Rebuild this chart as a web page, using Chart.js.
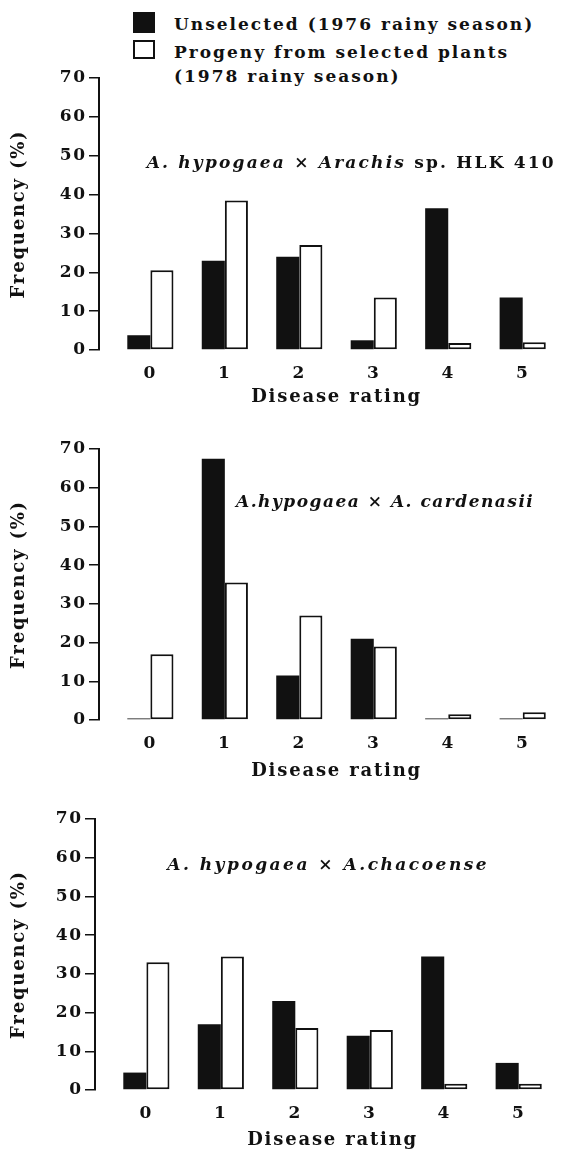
<!DOCTYPE html>
<html>
<head>
<meta charset="utf-8">
<script src="https://cdn.jsdelivr.net/npm/chart.js@4.4.1/dist/chart.umd.min.js"></script>
<style>
  html, body { margin: 0; padding: 0; background: #fff; }
  #page { position: relative; width: 566px; height: 1153px; overflow: hidden; }
  canvas { position: absolute; left: 0; }
  .key { position: absolute; background: #111; }
  .key.open { background: #fff; border: 2px solid #111; box-sizing: border-box; }
  .ktext { position: absolute; left: 174px; font: bold 17px "DejaVu Serif", serif;
           letter-spacing: 2px; color: #111; line-height: 24px; white-space: nowrap; }
</style>
</head>
<body>
<div id="page">
  <div class="key" style="left:133px;top:12px;width:22px;height:21px"></div>
  <div class="ktext" id="lab1" style="top:12px"></div>
  <div class="key open" style="left:133px;top:40px;width:22px;height:19px"></div>
  <div class="ktext" id="lab2" style="top:40px"></div>
  <canvas id="c1" width="566" height="410" style="top:0"></canvas>
  <canvas id="c2" width="566" height="375" style="top:410px"></canvas>
  <canvas id="c3" width="566" height="368" style="top:785px"></canvas>
</div>
<script>
// data
const ratings = [0, 1, 2, 3, 4, 5];
const yTicks = [0, 10, 20, 30, 40, 50, 60, 70];
const seriesNames = ["Unselected (1976 rainy season)", "Progeny from selected plants\n(1978 rainy season)"];
const xTitle = "Disease rating";
const yTitle = "Frequency (%)";

const hlkUnselected = [3.8, 23, 24, 2.5, 36.5, 13.5];
const hlkProgeny    = [20.5, 38.5, 27, 13.5, 1.8, 2];
const cardUnselected = [0.4, 67.5, 11.5, 21, 0.4, 0.4];
const cardProgeny    = [17, 35.5, 27, 19, 1.5, 2];
const chacUnselected = [4.5, 17, 23, 14, 34.5, 7];
const chacProgeny    = [33, 34.5, 16, 15.5, 1.6, 1.6];

// [text, italic]
const titleHLK  = [["A. hypogaea", true], [" × ", false], ["Arachis", true], [" sp. HLK 410", false]];
const titleCard = [["A.hypogaea", true], [" × ", false], ["A. cardenasii", true]];
const titleChac = [["A. hypogaea", true], [" × ", false], ["A.chacoense", true]];

document.getElementById("lab1").textContent = seriesNames[0];
document.getElementById("lab2").innerHTML = seriesNames[1].replace("\n", "<br>");

const INK = "#111";
const SERIF = '"DejaVu Serif", serif';
const TICK_FONT = { family: SERIF, size: 17, weight: "bold" };
const AXIS_FONT = { family: SERIF, size: 18, weight: "bold" };

// letter spacing like the typeset original
const spacing = {
  id: "spacing",
  beforeLayout(chart) { chart.ctx.letterSpacing = "1.8px"; },
  beforeDraw(chart) { chart.ctx.letterSpacing = "1.8px"; }
};

// cross title placed in data units, x title centred on the rating range
const panelText = {
  id: "panelText",
  afterDatasetsDraw(chart, args, opts) {
    const { ctx, chartArea, scales: { x, y } } = chart;
    ctx.save();
    ctx.fillStyle = INK;
    ctx.textBaseline = "middle";

    ctx.textAlign = "left";
    ctx.letterSpacing = opts.spacing + "px";
    let px = x.getPixelForValue(opts.x);
    const py = y.getPixelForValue(opts.y);
    opts.parts.forEach(([text, italic]) => {
      ctx.font = (italic ? "italic " : "") + "bold 17px " + SERIF;
      ctx.fillText(text, px, py);
      px += ctx.measureText(text).width;
    });

    ctx.textAlign = "center";
    ctx.letterSpacing = "1.8px";
    ctx.font = "bold 18px " + SERIF;
    const mid = (ratings[0] + ratings[ratings.length - 1]) / 2;
    ctx.fillText(xTitle, x.getPixelForValue(mid), chartArea.bottom + opts.gap);
    ctx.restore();
  }
};

function makePanel(id, unsel, prog, title, cfg) {
  const pts = arr => ratings.map((r, i) => ({ x: r, y: arr[i] }));
  return new Chart(document.getElementById(id), {
    type: "bar",
    data: {
      datasets: [
        { label: seriesNames[0], data: pts(unsel), backgroundColor: INK, borderWidth: 0,
          categoryPercentage: 0.62, barPercentage: 1 },
        { label: seriesNames[1], data: pts(prog), backgroundColor: "#fff", borderColor: INK,
          borderWidth: 2, borderSkipped: false, categoryPercentage: 0.62, barPercentage: 1 }
      ]
    },
    options: {
      responsive: false,
      animation: false,
      layout: { padding: { top: cfg.top, right: cfg.right, left: 0, bottom: 0 } },
      scales: {
        x: {
          type: "linear", min: -0.69, max: 5.38, offset: false,
          afterBuildTicks: s => { s.ticks = ratings.map(v => ({ value: v })); },
          afterFit: s => { s.height = cfg.xh; },
          grid: { display: false, drawTicks: false, offset: false },
          border: { display: false },
          ticks: { font: TICK_FONT, color: INK, padding: 13, maxRotation: 0, autoSkip: false },
          title: { display: false }
        },
        y: {
          min: 0, max: 70,
          afterBuildTicks: s => { s.ticks = yTicks.map(v => ({ value: v })); },
          afterFit: s => { s.width = cfg.left; },
          grid: { drawOnChartArea: false, drawTicks: true, tickLength: 10, color: INK, lineWidth: 1.5 },
          border: { display: true, color: INK, width: 2 },
          ticks: { font: TICK_FONT, color: INK, padding: 2 },
          title: { display: true, text: yTitle, font: AXIS_FONT, color: INK, padding: { top: 9, bottom: 0 } }
        }
      },
      plugins: {
        legend: { display: false },
        tooltip: { enabled: false },
        panelText: { parts: title, x: cfg.tx, y: cfg.ty, spacing: cfg.ts, gap: cfg.gap }
      }
    },
    plugins: [spacing, panelText]
  });
}

makePanel("c1", hlkUnselected, hlkProgeny, titleHLK,
  { top: 78, right: 15, left: 99, xh: 60, tx: -0.05, ty: 48, ts: 2.2, gap: 47 });
makePanel("c2", cardUnselected, cardProgeny, titleCard,
  { top: 39, right: 15, left: 99, xh: 65, tx: 1.15, ty: 56.2, ts: 1.5, gap: 51 });
makePanel("c3", chacUnselected, chacProgeny, titleChac,
  { top: 34, right: 19, left: 95, xh: 63, tx: 0.28, ty: 58, ts: 2.5, gap: 50 });
</script>
</body>
</html>
